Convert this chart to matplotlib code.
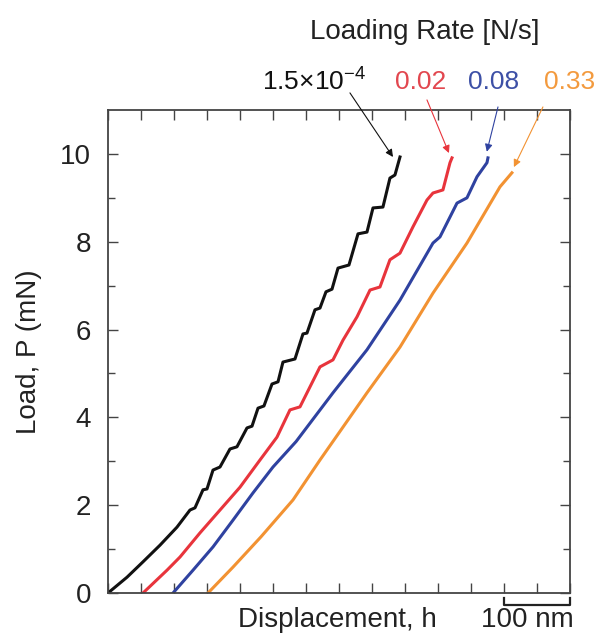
import numpy as np
import matplotlib
matplotlib.use("Agg")
import matplotlib.pyplot as plt

plt.rcParams['font.family'] = ['Liberation Sans', 'DejaVu Sans']
plt.rcParams['mathtext.fontset'] = 'custom'
plt.rcParams['mathtext.rm'] = 'Liberation Sans'

# Load-displacement curves (displacement in nm, load in mN)
# slowest rate shows discrete pop-ins (flat steps)
h_slow = [0, 28.8, 53.0, 78.8, 104.5, 124.2, 131.8, 143.9, 150.0, 159.1, 169.7, 184.8, 195.4,
          210.6, 218.2, 227.3, 236.3, 248.5, 257.6, 265.1, 283.3, 295.4, 301.5, 313.6, 321.2,
          330.3, 339.4, 348.5, 365.1, 378.8, 392.4, 401.5, 416.6, 427.2, 434.8, 442.4]
P_slow = [0, 0.36, 0.71, 1.09, 1.50, 1.89, 1.94, 2.35, 2.37, 2.80, 2.87, 3.28, 3.33,
          3.76, 3.80, 4.21, 4.26, 4.76, 4.81, 5.26, 5.33, 5.90, 5.92, 6.45, 6.49,
          6.86, 6.92, 7.40, 7.47, 8.18, 8.22, 8.77, 8.79, 9.45, 9.52, 9.93]

h_002 = [53.0, 89.4, 109.1, 139.4, 169.7, 200.0, 230.3, 256.0, 275.7, 290.9, 321.2, 340.9,
         356.1, 377.3, 397.0, 412.1, 427.2, 442.4, 462.1, 483.3, 492.4, 507.5, 518.2, 521.2]
P_002 = [0, 0.52, 0.82, 1.37, 1.89, 2.41, 3.03, 3.55, 4.17, 4.24, 5.15, 5.31,
         5.76, 6.29, 6.90, 6.97, 7.59, 7.74, 8.34, 8.95, 9.11, 9.18, 9.80, 9.91]

h_008 = [98.5, 128.8, 159.1, 189.4, 219.7, 250.0, 285.0, 340.9, 392.4, 442.4, 492.4,
         503.0, 528.8, 543.9, 559.1, 574.2, 575.7]
P_008 = [0, 0.52, 1.05, 1.66, 2.28, 2.87, 3.45, 4.56, 5.54, 6.67, 7.97,
         8.11, 8.88, 9.00, 9.48, 9.80, 9.91]

h_033 = [151.5, 189.4, 231.8, 280.3, 321.2, 392.4, 442.4, 492.4, 543.9, 593.9, 612.0]
P_033 = [0, 0.59, 1.28, 2.12, 3.03, 4.56, 5.60, 6.83, 7.97, 9.25, 9.57]

rate_labels = [r'$\mathregular{1.5{\times}10^{-4}}$', '0.02', '0.08', '0.33']
colors = ['#111111', '#e8343c', '#2f42a0', '#f29232']
text_colors = ['#111111', '#e2474f', '#3d50a6', '#f39a3e']

fig = plt.figure(figsize=(6.01, 6.40), dpi=100)
ax = fig.add_axes([0.1797, 0.0734, 0.7687, 0.7547])

curves = [(h_slow, P_slow), (h_002, P_002), (h_008, P_008), (h_033, P_033)]
for (h, P), c in zip(curves, colors):
    ax.plot(h, P, color=c, lw=2.2, solid_joinstyle='round')

ax.set_xlim(0, 700)
ax.set_ylim(0, 11)
ax.set_xticks(np.arange(0, 701, 50))
ax.set_yticks(np.arange(0, 11, 2))
ax.set_yticks(np.arange(1, 11, 2), minor=True)
ax.tick_params(which='both', direction='in', top=True, right=True, labelbottom=False,
               color='#444444', width=1.0)
ax.tick_params(which='major', length=7, labelsize=20, pad=12, labelcolor='#222222')
ax.tick_params(which='minor', length=5)
for s in ax.spines.values():
    s.set_color('#444444')
    s.set_linewidth(1.3)

ax.set_ylabel('Load, P (mN)', fontsize=20, color='#222222', labelpad=13)

# header, rate labels and arrows to the end of each curve
ax.text(480, 12.78, 'Loading Rate [N/s]', fontsize=20, ha='center', va='center',
        color='#222222', clip_on=False)
label_x = [314, 421, 494, 570]
arrow_from = [(366.6, 11.39), (483.3, 11.23), (590.9, 11.07), (659.0, 11.07)]
arrow_to = [(431.8, 9.93), (516.6, 10.02), (574.0, 10.05), (615.0, 9.70)]
for lx, lab, tc, c, a0, a1 in zip(label_x, rate_labels, text_colors, colors, arrow_from, arrow_to):
    x_data = (lx - 108) * 700 / 462
    ax.text(x_data, 11.64, lab, fontsize=19, ha='center', va='center', color=tc, clip_on=False)
    ax.annotate('', xy=a1, xytext=a0, annotation_clip=False,
                arrowprops=dict(arrowstyle='-|>', color=c, lw=0.8, mutation_scale=11,
                                shrinkA=0, shrinkB=0))

# scale bar below the x axis
ax.plot([600, 600, 700, 700], [-0.11, -0.27, -0.27, -0.11], color='#222222', lw=1.6,
        clip_on=False)
ax.text(636, -0.62, '100 nm', fontsize=20, ha='center', va='center', color='#222222',
        clip_on=False)
ax.text(348, -0.62, 'Displacement, h', fontsize=20, ha='center', va='center',
        color='#222222', clip_on=False)

fig.savefig('out.png', dpi=100)
